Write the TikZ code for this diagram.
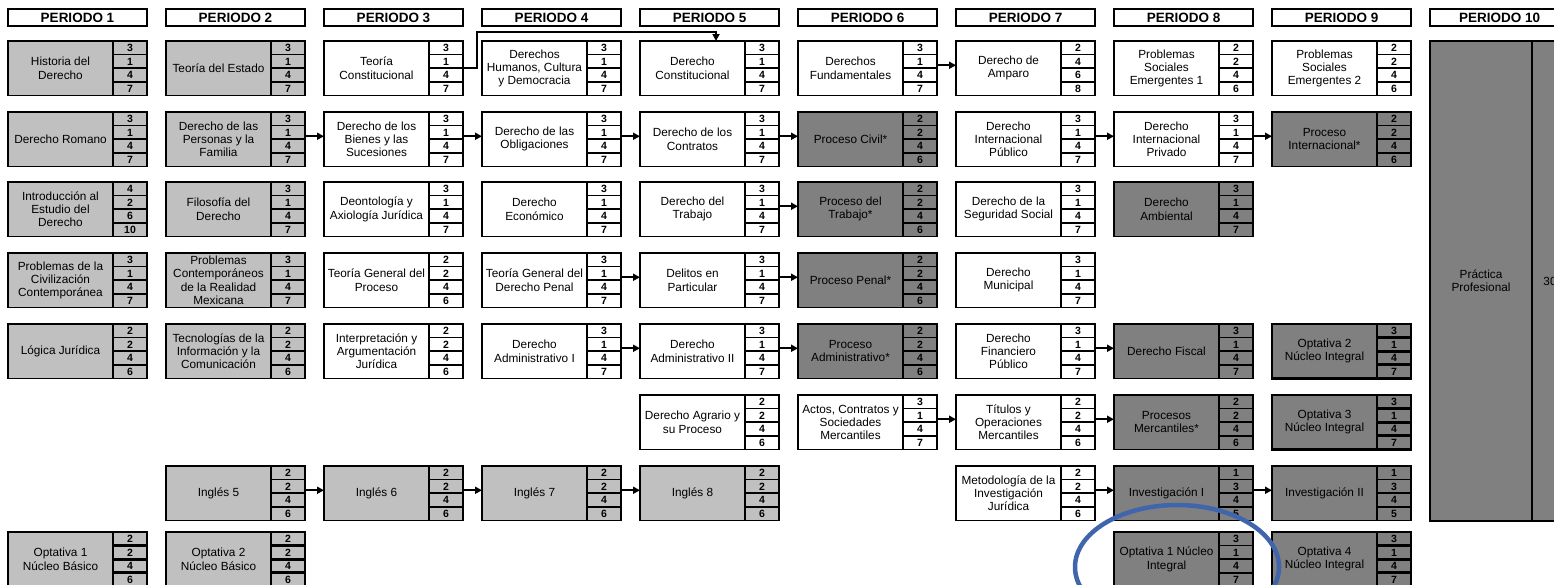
\documentclass[tikz,border=0pt]{standalone}
\usepackage{fontspec}
\setmainfont{Liberation Sans}
\usetikzlibrary{calc,arrows.meta,shapes.geometric}
\definecolor{lgray}{RGB}{192,192,192}
\definecolor{dgray}{RGB}{128,128,128}
\definecolor{ringblue}{RGB}{63,101,173}
\newcommand{\rowy}[1]{\ifcase#1\or41\or112\or182\or253\or324\or395\or466\or532\fi}
\tikzset{
  lg/.style={fill=lgray},
  dg/.style={fill=dgray},
  wt/.style={fill=white},
  heavy/.style={line width=2.8pt},
  cbox/.style={draw=black,line width=1.8pt,inner sep=0pt,outer sep=0pt,minimum width=139pt,minimum height=54.5pt},
  cline/.style={draw=black,line width=1.6pt},
  ctext/.style={align=center,inner sep=0pt,font=\fontsize{11.8}{13.3}\selectfont},
  cnum/.style={inner sep=0pt,font=\bfseries\fontsize{10.5}{11}\selectfont},
  hdr/.style={draw=black,fill=white,line width=1.8pt,inner sep=0pt,minimum width=139pt,minimum height=17pt,font=\bfseries\fontsize{13.5}{14}\selectfont},
  arr/.style={draw=black,line width=1.8pt,-{Triangle[length=7pt,width=7pt]}},
  ring/.style={draw=ringblue,line width=4.5pt,ellipse,inner sep=0pt,minimum width=204pt,minimum height=124pt}
}
\newcommand{\crs}[9]{%
  \pgfmathsetmacro{\cx}{8+158*(#1-1)}%
  \edef\cy{\rowy{#2}}%
  \node[cbox,#3,anchor=north west] (#9) at (\cx,\cy) {};
  \draw[cline,#3] ($(#9.north west)+(105,0)$) -- ($(#9.south west)+(105,0)$);
  \draw[cline,#3] ($(#9.north west)+(105,13.625)$) -- ($(#9.north east)+(0,13.625)$);
  \draw[cline,#3] ($(#9.north west)+(105,27.25)$) -- ($(#9.north east)+(0,27.25)$);
  \draw[cline,#3] ($(#9.north west)+(105,40.875)$) -- ($(#9.north east)+(0,40.875)$);
  \node[ctext] (#9-t) at ($(#9.north west)+(52.5,27.25)$) {#4};
  \node[cnum] (#9-a) at ($(#9.north west)+(122,6.8)$) {#5};
  \node[cnum] (#9-b) at ($(#9.north west)+(122,20.4)$) {#6};
  \node[cnum] (#9-c) at ($(#9.north west)+(122,34.1)$) {#7};
  \node[cnum] (#9-d) at ($(#9.north west)+(122,47.7)$) {#8};
}
\begin{document}
\begin{tikzpicture}[x=1pt,y=-1pt]
\useasboundingbox (0,0) rectangle (1554,584);
\clip (0,0) rectangle (1554,584);
\fill[white] (0,0) rectangle (1554,584);
% headers
\foreach \i in {1,...,10}{
  \pgfmathsetmacro{\hx}{8+158*(\i-1)+69.5}
  \node[hdr] (h\i) at (\hx,17.5) {PERIODO \i};
}
% Periodo 1
\crs{1}{1}{lg}{Historia del\\Derecho}{3}{1}{4}{7}{c1r1}
\crs{1}{2}{lg}{Derecho Romano}{3}{1}{4}{7}{c1r2}
\crs{1}{3}{lg}{Introducción al\\Estudio del\\Derecho}{4}{2}{6}{10}{c1r3}
\crs{1}{4}{lg}{Problemas de la\\Civilización\\Contemporánea}{3}{1}{4}{7}{c1r4}
\crs{1}{5}{lg}{Lógica Jurídica}{2}{2}{4}{6}{c1r5}
\crs{1}{8}{lg,heavy}{Optativa 1\\Núcleo Básico}{2}{2}{4}{6}{c1r8}
% Periodo 2
\crs{2}{1}{lg}{Teoría del Estado}{3}{1}{4}{7}{c2r1}
\crs{2}{2}{lg}{Derecho de las\\Personas y la\\Familia}{3}{1}{4}{7}{c2r2}
\crs{2}{3}{lg}{Filosofía del\\Derecho}{3}{1}{4}{7}{c2r3}
\crs{2}{4}{lg}{Problemas\\Contemporáneos\\de la Realidad\\Mexicana}{3}{1}{4}{7}{c2r4}
\crs{2}{5}{lg}{Tecnologías de la\\Información y la\\Comunicación}{2}{2}{4}{6}{c2r5}
\crs{2}{7}{lg}{Inglés 5}{2}{2}{4}{6}{c2r7}
\crs{2}{8}{lg,heavy}{Optativa 2\\Núcleo Básico}{2}{2}{4}{6}{c2r8}
% Periodo 3
\crs{3}{1}{wt}{Teoría\\Constitucional}{3}{1}{4}{7}{c3r1}
\crs{3}{2}{wt}{Derecho de los\\Bienes y las\\Sucesiones}{3}{1}{4}{7}{c3r2}
\crs{3}{3}{wt}{Deontología y\\Axiología Jurídica}{3}{1}{4}{7}{c3r3}
\crs{3}{4}{wt}{Teoría General del\\Proceso}{2}{2}{4}{6}{c3r4}
\crs{3}{5}{wt}{Interpretación y\\Argumentación\\Jurídica}{2}{2}{4}{6}{c3r5}
\crs{3}{7}{lg}{Inglés 6}{2}{2}{4}{6}{c3r7}
% Periodo 4
\crs{4}{1}{wt}{Derechos\\Humanos, Cultura\\y Democracia}{3}{1}{4}{7}{c4r1}
\crs{4}{2}{wt}{Derecho de las\\Obligaciones}{3}{1}{4}{7}{c4r2}
\crs{4}{3}{wt}{Derecho\\Económico}{3}{1}{4}{7}{c4r3}
\crs{4}{4}{wt}{Teoría General del\\Derecho Penal}{3}{1}{4}{7}{c4r4}
\crs{4}{5}{wt}{Derecho\\Administrativo I}{3}{1}{4}{7}{c4r5}
\crs{4}{7}{lg}{Inglés 7}{2}{2}{4}{6}{c4r7}
% Periodo 5
\crs{5}{1}{wt}{Derecho\\Constitucional}{3}{1}{4}{7}{c5r1}
\crs{5}{2}{wt}{Derecho de los\\Contratos}{3}{1}{4}{7}{c5r2}
\crs{5}{3}{wt}{Derecho del\\Trabajo}{3}{1}{4}{7}{c5r3}
\crs{5}{4}{wt}{Delitos en\\Particular}{3}{1}{4}{7}{c5r4}
\crs{5}{5}{wt}{Derecho\\Administrativo II}{3}{1}{4}{7}{c5r5}
\crs{5}{6}{wt}{Derecho Agrario y\\su Proceso}{2}{2}{4}{6}{c5r6}
\crs{5}{7}{lg}{Inglés 8}{2}{2}{4}{6}{c5r7}
% Periodo 6
\crs{6}{1}{wt}{Derechos\\Fundamentales}{3}{1}{4}{7}{c6r1}
\crs{6}{2}{dg}{Proceso Civil*}{2}{2}{4}{6}{c6r2}
\crs{6}{3}{dg}{Proceso del\\Trabajo*}{2}{2}{4}{6}{c6r3}
\crs{6}{4}{dg}{Proceso Penal*}{2}{2}{4}{6}{c6r4}
\crs{6}{5}{dg}{Proceso\\Administrativo*}{2}{2}{4}{6}{c6r5}
\crs{6}{6}{wt}{Actos, Contratos y\\Sociedades\\Mercantiles}{3}{1}{4}{7}{c6r6}
% Periodo 7
\crs{7}{1}{wt}{Derecho de\\Amparo}{2}{4}{6}{8}{c7r1}
\crs{7}{2}{wt}{Derecho\\Internacional\\Público}{3}{1}{4}{7}{c7r2}
\crs{7}{3}{wt}{Derecho de la\\Seguridad Social}{3}{1}{4}{7}{c7r3}
\crs{7}{4}{wt}{Derecho\\Municipal}{3}{1}{4}{7}{c7r4}
\crs{7}{5}{wt}{Derecho\\Financiero\\Público}{3}{1}{4}{7}{c7r5}
\crs{7}{6}{wt}{Títulos y\\Operaciones\\Mercantiles}{2}{2}{4}{6}{c7r6}
\crs{7}{7}{wt}{Metodología de la\\Investigación\\Jurídica}{2}{2}{4}{6}{c7r7}
% Periodo 8
\crs{8}{1}{wt}{Problemas\\Sociales\\Emergentes 1}{2}{2}{4}{6}{c8r1}
\crs{8}{2}{wt}{Derecho\\Internacional\\Privado}{3}{1}{4}{7}{c8r2}
\crs{8}{3}{dg}{Derecho\\Ambiental}{3}{1}{4}{7}{c8r3}
\crs{8}{5}{dg}{Derecho Fiscal}{3}{1}{4}{7}{c8r5}
\crs{8}{6}{dg}{Procesos\\Mercantiles*}{2}{2}{4}{6}{c8r6}
\crs{8}{7}{dg}{Investigación I}{1}{3}{4}{5}{c8r7}
\crs{8}{8}{dg}{Optativa 1 Núcleo\\Integral}{3}{1}{4}{7}{c8r8}
% Periodo 9
\crs{9}{1}{wt}{Problemas\\Sociales\\Emergentes 2}{2}{2}{4}{6}{c9r1}
\crs{9}{2}{dg}{Proceso\\Internacional*}{2}{2}{4}{6}{c9r2}
\crs{9}{5}{dg,heavy}{Optativa 2\\Núcleo Integral}{3}{1}{4}{7}{c9r5}
\crs{9}{6}{dg,heavy}{Optativa 3\\Núcleo Integral}{3}{1}{4}{7}{c9r6}
\crs{9}{7}{dg}{Investigación II}{1}{3}{4}{5}{c9r7}
\crs{9}{8}{dg,heavy}{Optativa 4\\Núcleo Integral}{3}{1}{4}{7}{c9r8}
% Periodo 10
\node[cbox,dg,anchor=north west,minimum height=480pt] (pp) at (1430,41) {};
\draw[cline] ($(pp.north west)+(102,0)$) -- ($(pp.south west)+(102,0)$);
\node[ctext] (pp-t) at ($(pp.north west)+(51,240)$) {Práctica\\Profesional};
\node[ctext] (pp-n) at ($(pp.north west)+(120,240)$) {30};
% connectors
\coordinate (bend) at (477,32);
\draw[arr] (c3r1.east) -| (bend) -| ([xshift=6.5pt]c5r1.north);
\draw[arr] ([yshift=3pt]c6r1.east) -- ([yshift=3pt]c7r1.west);
\foreach \a/\b in {c2r2/c3r2,c3r2/c4r2,c4r2/c5r2,c5r2/c6r2,c7r2/c8r2,c8r2/c9r2,
  c5r3/c6r3,c4r4/c5r4,c5r4/c6r4,c4r5/c5r5,c5r5/c6r5,c7r5/c8r5,
  c6r6/c7r6,c7r6/c8r6,c2r7/c3r7,c3r7/c4r7,c4r7/c5r7,c7r7/c8r7,c8r7/c9r7}{
  \draw[arr] ([yshift=3pt]\a.east) -- ([yshift=3pt]\b.west);
}
% annotation ring
\node[ring] (mark) at (1177,567) {};
\end{tikzpicture}
\end{document}
